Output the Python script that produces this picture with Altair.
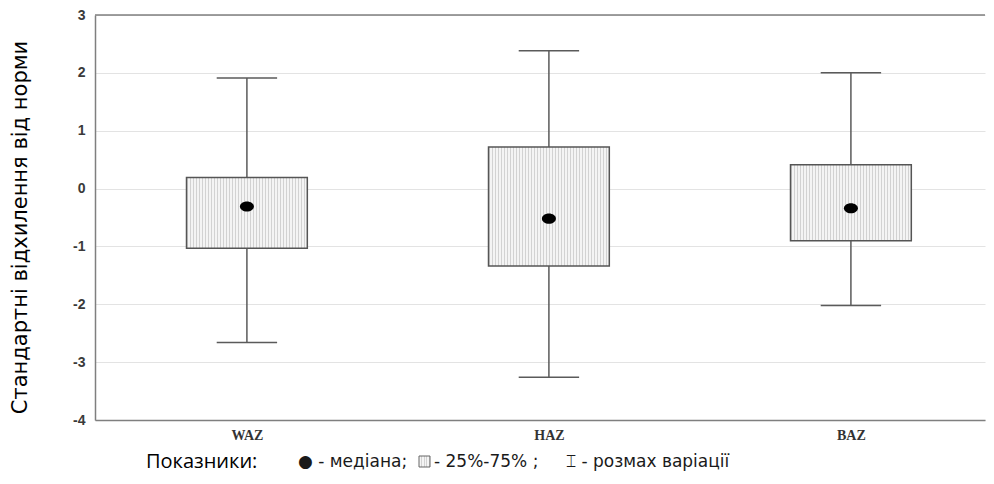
import json
import altair as alt
import pandas as pd

# ---- data ----
categories = ["WAZ", "HAZ", "BAZ"]
whisker_low = [-2.66, -3.26, -2.02]
q1 = [-1.03, -1.34, -0.90]
median = [-0.31, -0.52, -0.34]
q3 = [0.19, 0.72, 0.41]
whisker_high = [1.91, 2.38, 2.00]
y_ticks = [-4, -3, -2, -1, 0, 1, 2, 3]

y_title = "Стандартні відхилення від норми"
legend_head = "Показники:"
legend_parts = ["● - медіана;", "-  25%-75% ;", "⌶ - розмах варіації"]

# ---- table ----
df = pd.DataFrame({
    "cat": categories,
    "idx": list(range(len(categories))),
    "lo": whisker_low,
    "q1": q1,
    "med": median,
    "q3": q3,
    "hi": whisker_high,
})

BOX_HALF = 0.2
CAP_HALF = 0.1
GRAY = "#5a5a5a"

# dotted-looking texture for the boxes (fine light vertical stripes)
stops = []
n_stripes = 40
for k in range(n_stripes):
    p0 = k / n_stripes
    p1 = p0 + 1.0 / 121
    stops += [
        {"offset": p0, "color": "#f4f4f4"},
        {"offset": p0, "color": "#d2d2d2"},
        {"offset": p1, "color": "#d2d2d2"},
        {"offset": p1, "color": "#f4f4f4"},
    ]
stops.append({"offset": 1, "color": "#f4f4f4"})
texture = {"gradient": "linear", "x1": 0, "x2": 1, "y1": 0, "y2": 0, "stops": stops}

x_scale = alt.Scale(domain=[-0.503, 2.444], nice=False, zero=False)
y_scale = alt.Scale(domain=[-4, 3], nice=False, zero=False)

label_expr = json.dumps(categories) + "[datum.value]"
x_axis = alt.Axis(values=list(range(len(categories))), labelExpr=label_expr, title=None,
                  grid=False, ticks=False, domainColor="#7f7f7f", domainWidth=1.5,
                  labelFont="Liberation Serif", labelFontWeight="bold", labelFontSize=14,
                  labelColor="#333333", labelPadding=8)
y_axis = alt.Axis(values=y_ticks, labelExpr="'' + datum.value", title=y_title,
                  titleFont="DejaVu Sans", titleFontSize=21, titleFontWeight="normal",
                  titleColor="#000000", titleAngle=270, titleX=-69, titleY=212,
                  titleAlign="center", titleBaseline="alphabetic",
                  grid=True, gridColor="#e3e3e3", gridWidth=1, ticks=False,
                  domainColor="#7f7f7f", domainWidth=1.5,
                  labelFont="Liberation Sans", labelFontSize=14, labelFontWeight="bold",
                  labelColor="#3a3a3a", labelPadding=10)

base = alt.Chart(df).transform_calculate(
    bl=f"datum.idx - {BOX_HALF}", br=f"datum.idx + {BOX_HALF}",
    cl=f"datum.idx - {CAP_HALF}", cr=f"datum.idx + {CAP_HALF}",
)

whisker = base.mark_rule(color=GRAY, strokeWidth=1.5).encode(
    x=alt.X("idx:Q", scale=x_scale, axis=x_axis),
    y=alt.Y("lo:Q", scale=y_scale, axis=y_axis),
    y2="hi:Q",
)
cap_lo = base.mark_rule(color=GRAY, strokeWidth=1.5).encode(
    x=alt.X("cl:Q", scale=x_scale, axis=x_axis), x2="cr:Q",
    y=alt.Y("lo:Q", scale=y_scale, axis=y_axis),
)
cap_hi = base.mark_rule(color=GRAY, strokeWidth=1.5).encode(
    x=alt.X("cl:Q", scale=x_scale, axis=x_axis), x2="cr:Q",
    y=alt.Y("hi:Q", scale=y_scale, axis=y_axis),
)
box = base.mark_rect(fill=texture, stroke="#555555", strokeWidth=1.5).encode(
    x=alt.X("bl:Q", scale=x_scale, axis=x_axis), x2="br:Q",
    y=alt.Y("q1:Q", scale=y_scale, axis=y_axis), y2="q3:Q",
)
ellipse = "M -1 0 A 1 0.72 0 1 1 1 0 A 1 0.72 0 1 1 -1 0 Z"
med = base.mark_point(shape=ellipse, filled=True, color="#000000", size=196, opacity=1, strokeWidth=0).encode(
    x=alt.X("idx:Q", scale=x_scale, axis=x_axis),
    y=alt.Y("med:Q", scale=y_scale, axis=y_axis),
)

top_border = alt.Chart(pd.DataFrame({"t": [y_ticks[-1]]})).mark_rule(
    color="#7f7f7f", strokeWidth=1.5
).encode(y=alt.Y("t:Q", scale=y_scale, axis=y_axis))

legend_y = 447
head = alt.Chart(pd.DataFrame({"t": [legend_head]})).mark_text(
    align="left", baseline="middle", font="Open Sans", fontSize=20, color="#000000"
).encode(text="t:N", x=alt.value(51), y=alt.value(legend_y))

legend_x = [203, 339, 471]
legend_layers = []
for txt, lx in zip(legend_parts, legend_x):
    legend_layers.append(
        alt.Chart(pd.DataFrame({"t": [txt]})).mark_text(
            align="left", baseline="middle", font="DejaVu Sans", fontSize=17, color="#1a1a1a"
        ).encode(text="t:N", x=alt.value(lx), y=alt.value(legend_y))
    )

# small box icon in the legend line
icon = alt.Chart(pd.DataFrame({"t": [1]})).mark_rect(
    fill=texture, stroke="#666666", strokeWidth=1
).encode(x=alt.value(324), x2=alt.value(335), y=alt.value(legend_y - 6), y2=alt.value(legend_y + 5))

chart = alt.layer(
    top_border, whisker, cap_lo, cap_hi, box, med, head, icon, *legend_layers
).properties(
    width=890, height=405, padding=0
).configure_view(stroke=None)

chart.save("out.html", embed_options={"renderer": "svg", "actions": False})
